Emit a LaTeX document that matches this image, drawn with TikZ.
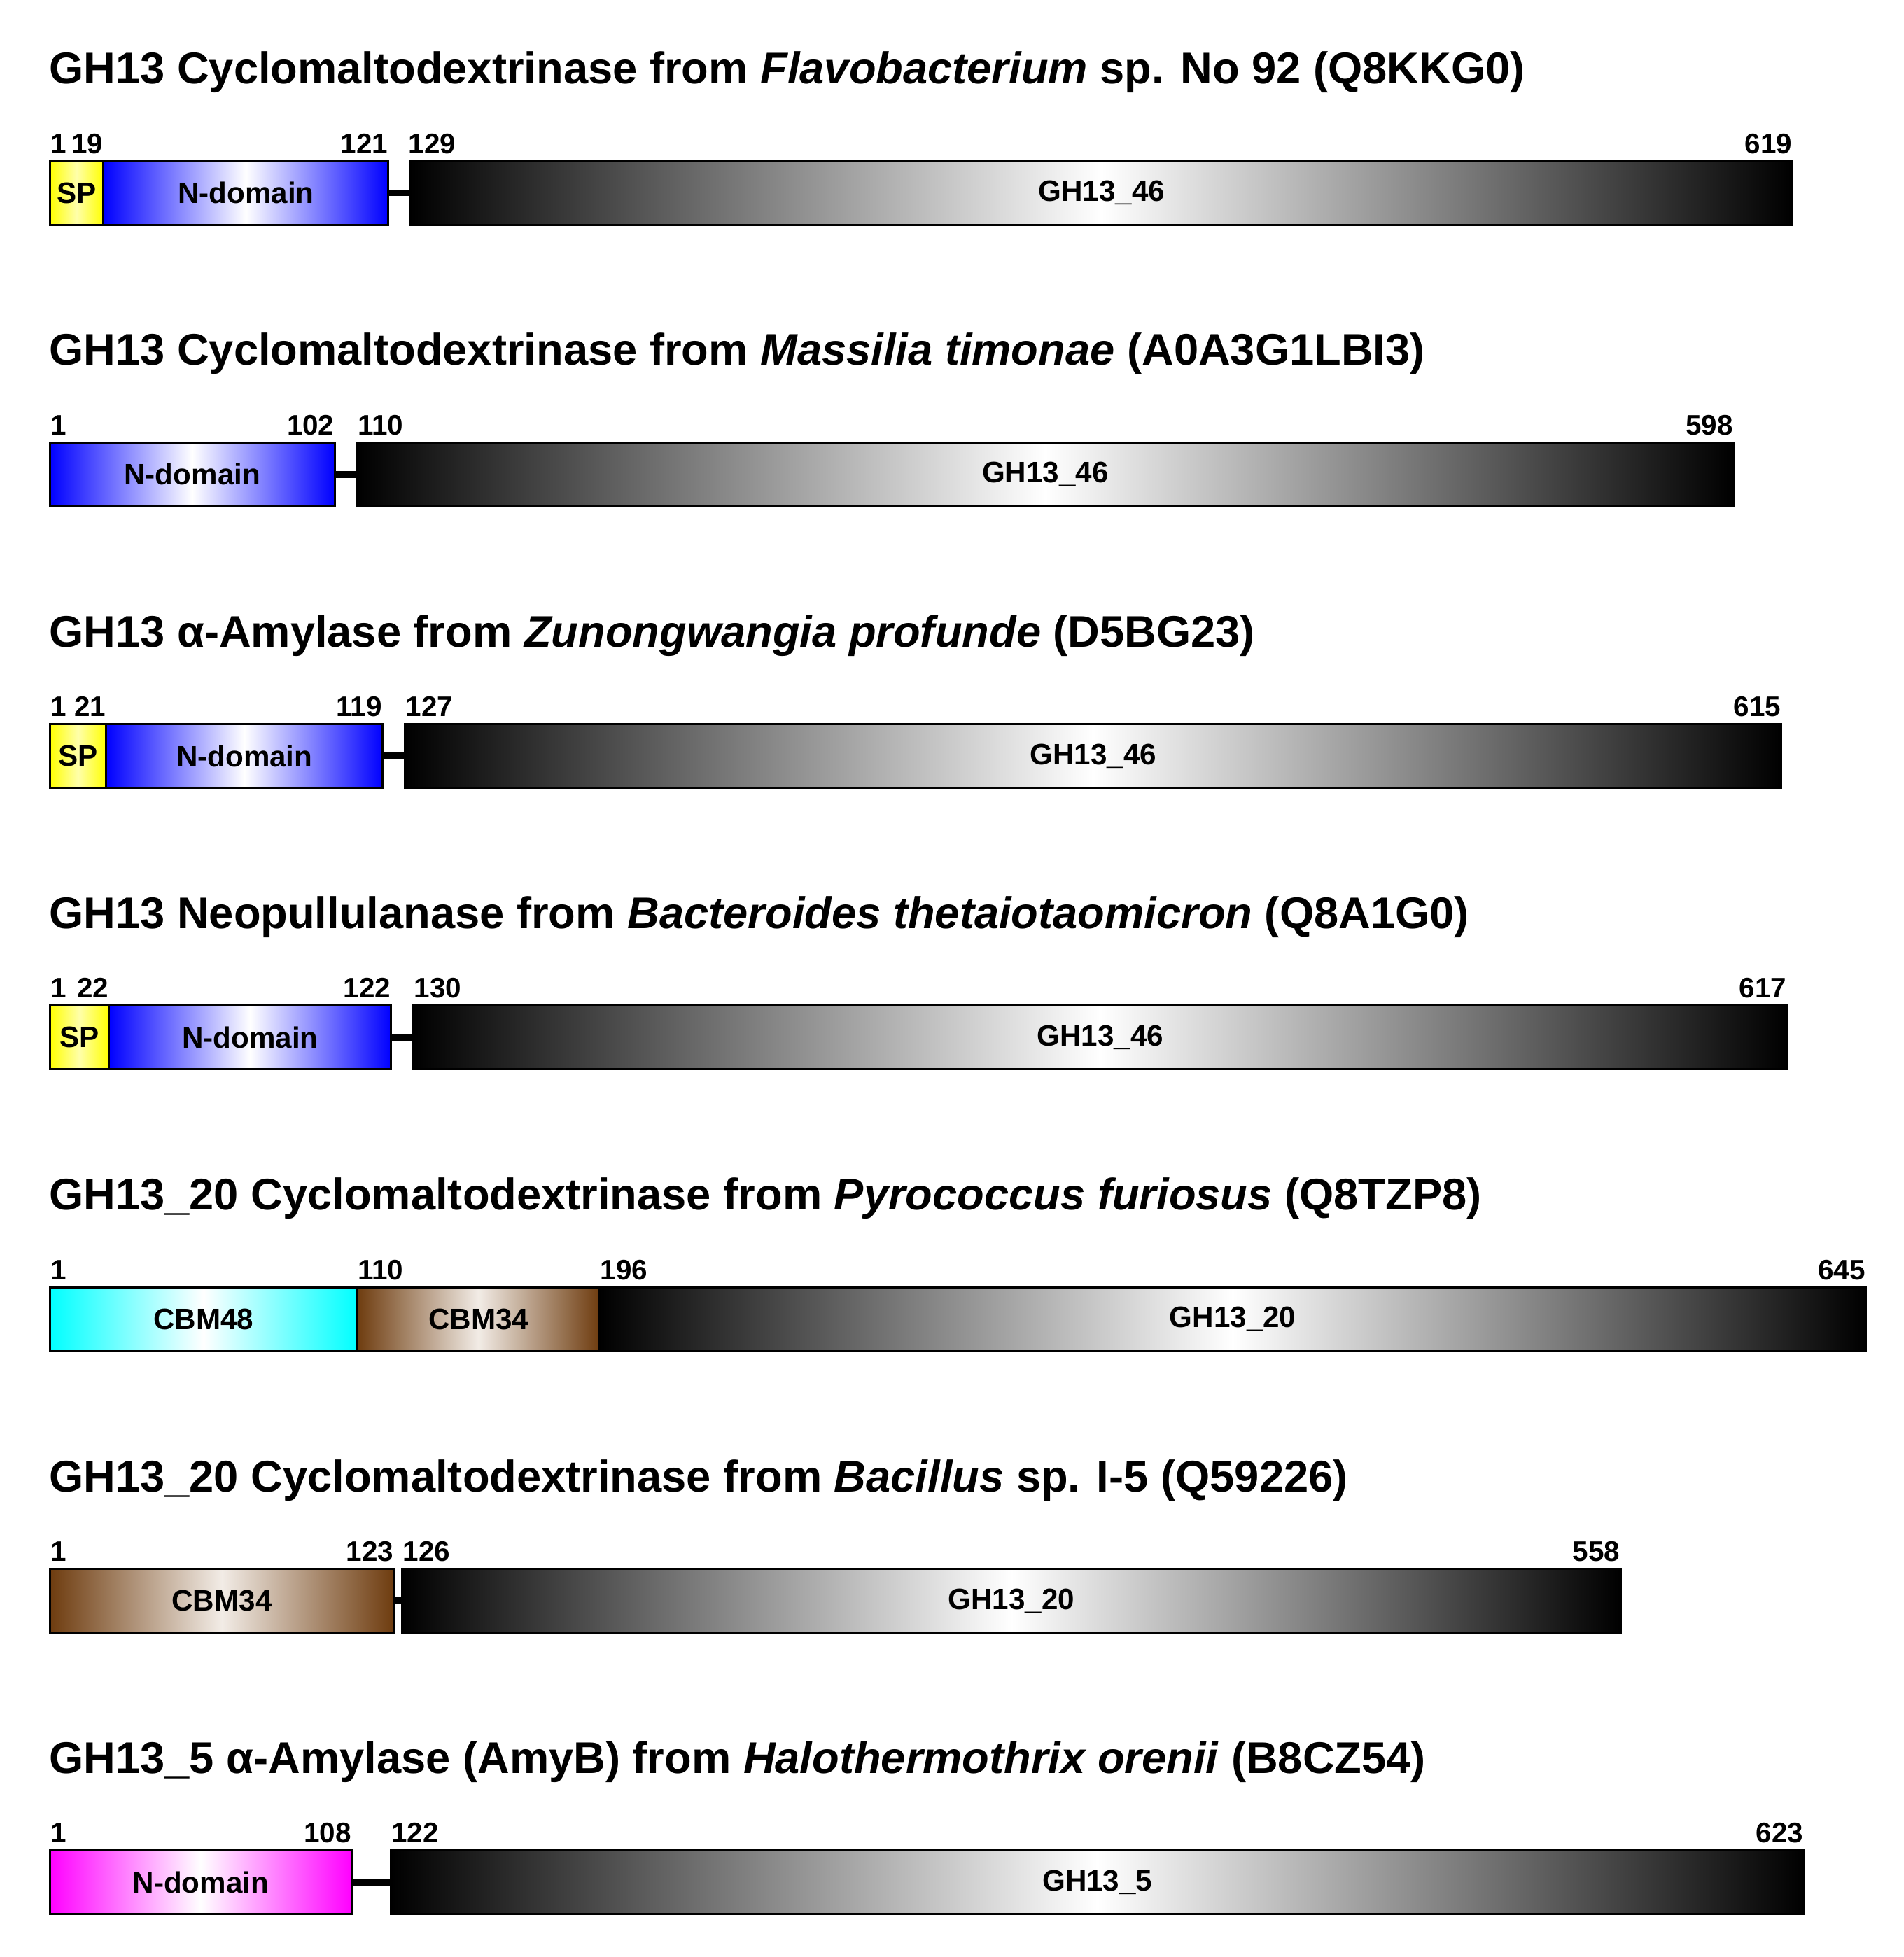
\documentclass[tikz,border=0pt]{standalone}
\usepackage{fontspec}
\setmainfont{Liberation Sans}
\definecolor{cbmbrown}{RGB}{110,60,15}
\definecolor{cbmpale}{RGB}{242,236,230}
\definecolor{sppale}{RGB}{255,255,170}

\begin{document}
\begin{tikzpicture}[x=0.04028cm, y=-1cm,
    dom/.style={draw=black, line width=0.85pt, minimum height=0.91cm,
                inner sep=0pt, outer sep=0pt, anchor=west,
                font=\fontsize{12}{14}\selectfont\bfseries},
    dw/.style={minimum width=#1*0.04028cm},
    sp/.style={dom, left color=yellow, right color=yellow, middle color=sppale},
    nd/.style={dom, left color=blue, right color=blue, middle color=white},
    nm/.style={dom, left color=magenta, right color=magenta, middle color=white},
    cbmc/.style={dom, left color=cyan, right color=cyan, middle color=white},
    cbmb/.style={dom, left color=cbmbrown, right color=cbmbrown, middle color=cbmpale},
    gh/.style={dom, left color=black, right color=black, middle color=white},
    linker/.style={line width=2.8pt},
    ttl/.style={anchor=base west, inner sep=0pt,
                font=\fontsize{18}{21}\selectfont\bfseries},
    num/.style={inner sep=0pt, font=\fontsize{11.5}{13}\selectfont\bfseries},
    lnum/.style={num, anchor=base west},
    rnum/.style={num, anchor=base east}]

    \useasboundingbox (-16.7,0) rectangle (658.3,27.96);

    % Flavobacterium
    \begin{scope}
        \node[ttl] (t1) at (0.6,1.195) {GH13 Cyclomaltodextrinase from \textit{Flavobacterium} sp. No 92 (Q8KKG0)};
        \node[sp, dw=19]  (s1) at (1,2.755)   {SP};
        \node[nd, dw=101] (n1) at (20,2.755)  {N-domain};
        \node[gh, dw=490] (g1) at (129,2.755) {GH13\_46};
        \draw[linker] (n1) -- (g1);
        \node[lnum] (p1a) at (1,2.19)   {1};
        \node[rnum] (p1b) at (20,2.19)  {19};
        \node[rnum] (p1c) at (121,2.19) {121};
        \node[lnum] (p1d) at (128,2.19) {129};
        \node[rnum] (p1e) at (619,2.19) {619};
    \end{scope}

    % Massilia
    \begin{scope}[yshift=-4.023cm]
        \node[ttl] (t2) at (0.6,1.195) {GH13 Cyclomaltodextrinase from \textit{Massilia timonae} (A0A3G1LBI3)};
        \node[nd, dw=101] (n2) at (1,2.755)   {N-domain};
        \node[gh, dw=488] (g2) at (110,2.755) {GH13\_46};
        \draw[linker] (n2) -- (g2);
        \node[lnum] (p2a) at (1,2.19)   {1};
        \node[rnum] (p2b) at (102,2.19) {102};
        \node[lnum] (p2c) at (110,2.19) {110};
        \node[rnum] (p2d) at (598,2.19) {598};
    \end{scope}

    % Zunongwangia
    \begin{scope}[yshift=-8.046cm]
        \node[ttl] (t3) at (0.6,1.195) {GH13 α-Amylase from \textit{Zunongwangia profunde} (D5BG23)};
        \node[sp, dw=20]  (s3) at (1,2.755)   {SP};
        \node[nd, dw=98]  (n3) at (21,2.755)  {N-domain};
        \node[gh, dw=488] (g3) at (127,2.755) {GH13\_46};
        \draw[linker] (n3) -- (g3);
        \node[lnum] (p3a) at (1,2.19)   {1};
        \node[rnum] (p3b) at (21,2.19)  {21};
        \node[rnum] (p3c) at (119,2.19) {119};
        \node[lnum] (p3d) at (127,2.19) {127};
        \node[rnum] (p3e) at (615,2.19) {615};
    \end{scope}

    % Bacteroides
    \begin{scope}[yshift=-12.069cm]
        \node[ttl] (t4) at (0.6,1.195) {GH13 Neopullulanase from \textit{Bacteroides thetaiotaomicron} (Q8A1G0)};
        \node[sp, dw=21]  (s4) at (1,2.755)   {SP};
        \node[nd, dw=100] (n4) at (22,2.755)  {N-domain};
        \node[gh, dw=487] (g4) at (130,2.755) {GH13\_46};
        \draw[linker] (n4) -- (g4);
        \node[lnum] (p4a) at (1,2.19)   {1};
        \node[rnum] (p4b) at (22,2.19)  {22};
        \node[rnum] (p4c) at (122,2.19) {122};
        \node[lnum] (p4d) at (130,2.19) {130};
        \node[rnum] (p4e) at (617,2.19) {617};
    \end{scope}

    % Pyrococcus
    \begin{scope}[yshift=-16.092cm]
        \node[ttl] (t5) at (0.6,1.195) {GH13\_20 Cyclomaltodextrinase from \textit{Pyrococcus furiosus} (Q8TZP8)};
        \node[cbmc, dw=109] (c5) at (1,2.755)   {CBM48};
        \node[cbmb, dw=86]  (b5) at (110,2.755) {CBM34};
        \node[gh, dw=449]   (g5) at (196,2.755) {GH13\_20};
        \node[lnum] (p5a) at (1,2.19)   {1};
        \node[lnum] (p5b) at (110,2.19) {110};
        \node[lnum] (p5c) at (196,2.19) {196};
        \node[rnum] (p5d) at (645,2.19) {645};
    \end{scope}

    % Bacillus
    \begin{scope}[yshift=-20.115cm]
        \node[ttl] (t6) at (0.6,1.195) {GH13\_20 Cyclomaltodextrinase from \textit{Bacillus} sp. I-5 (Q59226)};
        \node[cbmb, dw=122] (b6) at (1,2.755)   {CBM34};
        \node[gh, dw=432]   (g6) at (126,2.755) {GH13\_20};
        \draw[linker] (b6) -- (g6);
        \node[lnum] (p6a) at (1,2.19)   {1};
        \node[rnum] (p6b) at (123,2.19) {123};
        \node[lnum] (p6c) at (126,2.19) {126};
        \node[rnum] (p6d) at (558,2.19) {558};
    \end{scope}

    % Halothermothrix
    \begin{scope}[yshift=-24.138cm]
        \node[ttl] (t7) at (0.6,1.195) {GH13\_5 α-Amylase (AmyB) from \textit{Halothermothrix orenii} (B8CZ54)};
        \node[nm, dw=107] (n7) at (1,2.755)   {N-domain};
        \node[gh, dw=501] (g7) at (122,2.755) {GH13\_5};
        \draw[linker] (n7) -- (g7);
        \node[lnum] (p7a) at (1,2.19)   {1};
        \node[rnum] (p7b) at (108,2.19) {108};
        \node[lnum] (p7c) at (122,2.19) {122};
        \node[rnum] (p7d) at (623,2.19) {623};
    \end{scope}
\end{tikzpicture}
\end{document}
